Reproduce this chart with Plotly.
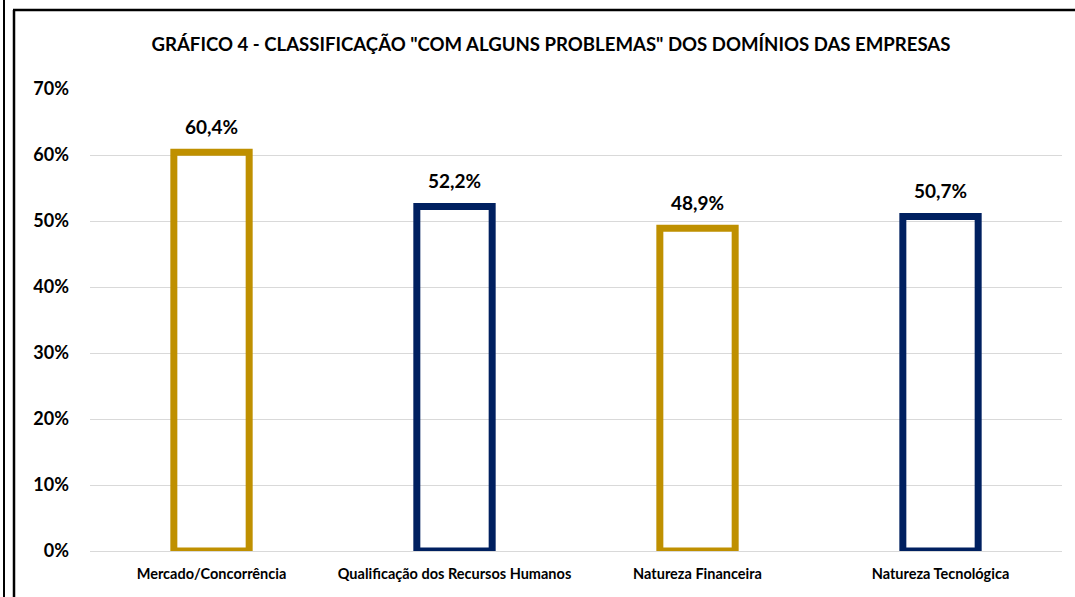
import plotly.graph_objects as go

categories = ["Mercado/Concorrência", "Qualificação dos Recursos Humanos", "Natureza Financeira", "Natureza Tecnológica"]
values = [0.604, 0.522, 0.489, 0.507]
colors = ["#BF9000", "#002060", "#BF9000", "#002060"]
y_ticks = [0, 0.1, 0.2, 0.3, 0.4, 0.5, 0.6, 0.7]

W, H = 1075, 597
L, R, T, B = 90, 13, 89, 46
pw, ph = W - L - R, H - T - B

def px(x):
    return (x - L) / pw

def py(y):
    return (H - B - y) / ph

fig = go.Figure()
fig.add_trace(go.Bar(
    x=categories, y=values,
    marker=dict(color="rgba(255,255,255,0)", line=dict(color=colors, width=7)),
    width=0.31,
    hoverinfo="skip",
))

for c, v in zip(categories, values):
    fig.add_annotation(
        x=c, y=v, xref="x", yref="y",
        text=f"<b>{v * 100:.1f}%</b>".replace(".", ","),
        showarrow=False, yanchor="bottom", yshift=12,
        font=dict(family="Lato", size=19, color="#000000"),
    )

fig.update_layout(
    width=W, height=H,
    margin=dict(l=L, r=R, t=T, b=B, autoexpand=False),
    paper_bgcolor="white", plot_bgcolor="white",
    separators=",.",
    showlegend=False,
    title=dict(text="<b>GRÁFICO 4 - CLASSIFICAÇÃO \"COM ALGUNS PROBLEMAS\" DOS DOMÍNIOS DAS EMPRESAS</b>",
               x=551 / W, xanchor="center", y=1 - 44 / H, yanchor="middle",
               font=dict(family="Lato", size=18.6, color="#000000")),
    font=dict(family="Lato", color="#000000"),
    shapes=[
        dict(type="line", xref="paper", yref="paper", x0=px(4), x1=px(4), y0=py(-5), y1=py(605),
             line=dict(color="black", width=2)),
        dict(type="line", xref="paper", yref="paper", x0=px(14), x1=px(14), y0=py(10), y1=py(605),
             line=dict(color="black", width=2.5)),
        dict(type="line", xref="paper", yref="paper", x0=px(13), x1=px(1080), y0=py(10), y1=py(10),
             line=dict(color="black", width=2.5)),
    ],
)

fig.update_yaxes(
    range=[0, 0.7], tickvals=y_ticks, tickformat=".0%",
    showgrid=True, gridcolor="#D9D9D9", gridwidth=1,
    zeroline=True, zerolinecolor="#D9D9D9", zerolinewidth=1,
    showline=False, ticks="", ticklabelstandoff=20,
    tickfont=dict(family="Lato", size=18, color="#000000", weight="bold"),
)
fig.update_xaxes(
    showline=False, ticks="", showgrid=False, ticklabelstandoff=12,
    tickfont=dict(family="Lato", size=14.5, color="#000000", weight="bold"),
)

fig.write_html("out.html", config={"displayModeBar": False},
               post_script="document.body.style.margin='0px';")
